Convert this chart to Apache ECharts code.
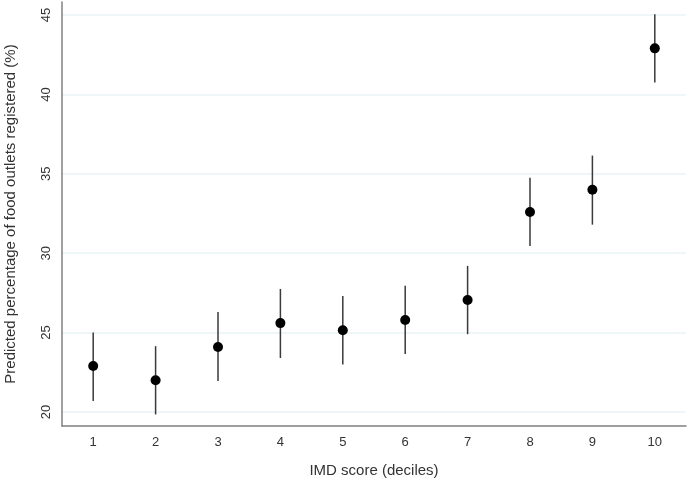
<!DOCTYPE html>
<html><head><meta charset="utf-8">
<script src="https://cdn.jsdelivr.net/npm/echarts@6/dist/echarts.min.js"></script>
<style>html,body{margin:0;padding:0;background:#fff}#c{width:688px;height:485px}</style>
</head><body><div id="c"></div>
<script>
const categories = ['1','2','3','4','5','6','7','8','9','10'];
const estimates = [22.9, 22.0, 24.1, 25.6, 25.15, 25.8, 27.05, 32.6, 34.0, 42.9];
const lower = [20.7, 19.85, 21.95, 23.4, 23.0, 23.65, 24.9, 30.45, 31.8, 40.75];
const upper = [25.0, 24.15, 26.3, 27.75, 27.3, 27.95, 29.2, 34.75, 36.15, 45.05];
const yTicks = [20, 25, 30, 35, 40, 45];

const chart = echarts.init(document.getElementById('c'));
const font = 'Liberation Sans, Arial, sans-serif';
chart.setOption({
  animation: false,
  grid: {left: 62, right: 2, top: 2, bottom: 59, containLabel: false, outerBoundsMode: 'none'},
  xAxis: {
    type: 'category', data: categories, boundaryGap: true,
    name: 'IMD score (deciles)', nameLocation: 'middle', nameGap: 37,
    nameTextStyle: {fontFamily: font, fontSize: 15, color: '#333'},
    axisLine: {lineStyle: {color: '#808080', width: 1.5}},
    axisTick: {show: false},
    axisLabel: {fontFamily: font, fontSize: 13, color: '#333', margin: 10},
    splitLine: {show: false}
  },
  yAxis: {
    type: 'value', min: 19.12, max: 45.82,
    name: 'Predicted percentage of food outlets registered (%)',
    nameLocation: 'middle', nameGap: 44, nameRotate: 90,
    nameTextStyle: {fontFamily: font, fontSize: 15, color: '#333'},
    axisLine: {show: true, lineStyle: {color: '#808080', width: 1.5}},
    axisTick: {show: false, customValues: yTicks},
    axisLabel: {fontFamily: font, fontSize: 13, color: '#333', rotate: 90, margin: 9, customValues: yTicks},
    splitLine: {show: true, lineStyle: {color: '#eaf3f5', width: 1.5}}
  },
  series: [
    {
      type: 'custom',
      data: categories.map((c, i) => [i, lower[i], upper[i]]),
      renderItem: function (params, api) {
        const p1 = api.coord([api.value(0), api.value(1)]);
        const p2 = api.coord([api.value(0), api.value(2)]);
        return {type: 'line', shape: {x1: p1[0], y1: p1[1], x2: p2[0], y2: p2[1]},
          style: {stroke: '#3a3a3a', lineWidth: 1.5}};
      },
      z: 2
    },
    {
      type: 'scatter',
      data: estimates,
      symbol: 'circle', symbolSize: 10,
      itemStyle: {color: '#000', opacity: 1},
      z: 3
    }
  ]
});
</script></body></html>
